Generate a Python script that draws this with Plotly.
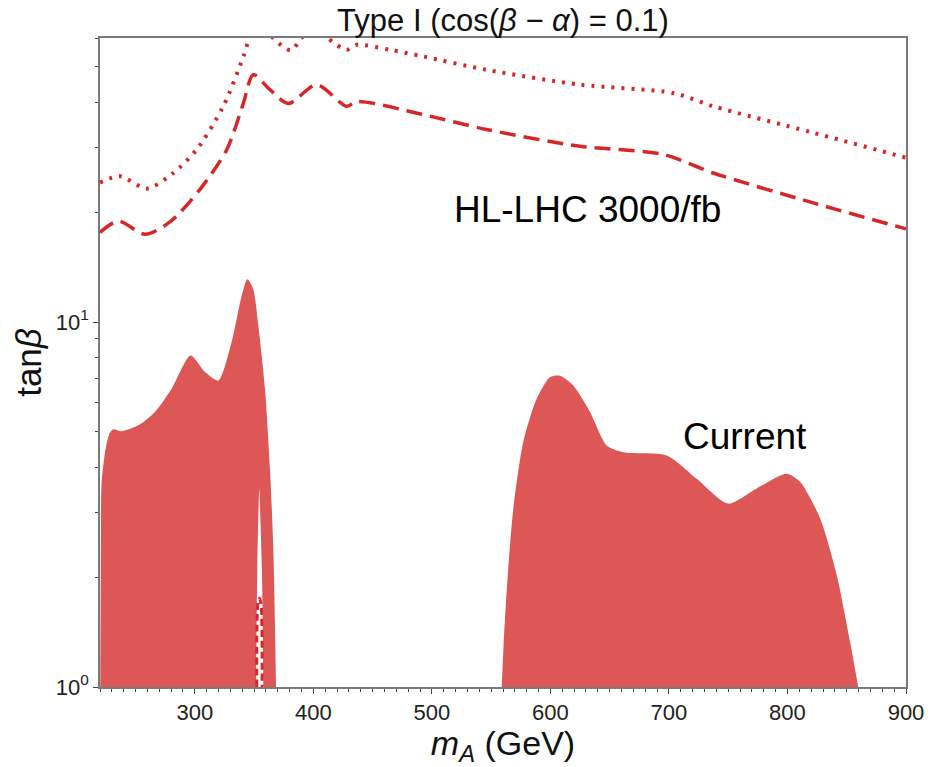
import numpy as np
import plotly.graph_objects as go

# ---- data: m_A (GeV) vs tan(beta) ----
# current exclusion, low-mass island
cur_low_mA = [220.2, 220.8, 221.4, 224.8, 228.0, 231.2, 238.0, 252.3, 266.4, 280.4,
              296.4, 308.6, 319.8, 331.0, 339.5, 344.3, 349.3, 353.6, 359.2, 363.4,
              366.2, 368.5]
cur_low_tb = [1.0, 2.5, 3.65, 4.5, 4.95, 5.08, 5.02, 5.21, 5.67, 6.56,
              8.09, 7.29, 6.91, 8.80, 11.8, 13.1, 12.3, 9.77, 6.56, 3.97,
              2.40, 1.0]

# allowed sliver inside the low-mass island
gap_mA = [351.6, 352.7, 353.8, 354.4, 355.0, 356.6, 357.8]
gap_tb = [1.0, 2.11, 3.1, 3.5, 3.1, 2.11, 1.0]

# HL-LHC reach inside the sliver
hl_gap_mA = [352.3, 352.4, 353.3, 354.5, 355.7, 356.6, 356.7]
hl_gap_tb = [1.0, 1.45, 1.7, 1.75, 1.7, 1.45, 1.0]

# current exclusion, high-mass island
cur_high_mA = [558.9, 560.5, 563.1, 568.7, 577.1, 588.4, 599.6, 608.1, 619.3, 633.4,
               647.5, 661.5, 698.1, 723.4, 750.0, 774.0, 799.3, 810.6, 827.5, 841.5,
               852.8, 859.7]
cur_high_tb = [1.0, 1.3, 1.83, 3.08, 4.69, 6.16, 7.06, 7.13, 6.70, 5.67,
               4.59, 4.40, 4.31, 3.72, 3.18, 3.50, 3.84, 3.65, 2.90, 2.03,
               1.33, 1.0]

# HL-LHC 3000/fb projections
hl_dash_mA = [220, 235.5, 258, 279, 304.4, 327, 341, 349.3, 363.4, 378.9,
              402.8, 428, 436.5, 492.7, 546, 625, 695, 737.4, 821.8, 900]
hl_dash_tb = [17.6, 18.9, 17.4, 18.8, 23.1, 29.7, 39.8, 47.6, 43.3, 39.7,
              44.7, 39.0, 40.2, 37.0, 33.7, 30.3, 28.8, 25.6, 21.2, 18.0]

hl_dot_mA = [220, 236.9, 259.4, 281.8, 301.6, 324, 341, 347, 356, 366,
             381, 390, 401, 412, 428, 436.5, 464.7, 492.7, 546, 625,
             703.7, 737.4, 821.8, 900]
hl_dot_tb = [24.1, 25.1, 23.2, 25.6, 29.7, 39.0, 53.4, 61, 67, 60,
             55.5, 60, 65, 60, 55.7, 57.5, 55.7, 53.4, 49.1, 44.7,
             42.4, 39.0, 33.0, 28.2]

x_ticks = [300, 400, 500, 600, 700, 800, 900]
y_ticks = [1, 10]
y_ticktext = ["10<sup>0</sup>", "10<sup>1</sup>"]
y_minor = [2, 3, 4, 5, 6, 7, 8, 9, 20, 30, 40, 50, 60]

FILL = "#dc5756"
LINE = "#d62728"
FONT = "Liberation Sans, Arial, Helvetica, sans-serif"

fig = go.Figure()

for xs, ys in [(cur_low_mA, cur_low_tb), (cur_high_mA, cur_high_tb)]:
    fig.add_trace(go.Scatter(
        x=xs, y=ys, mode="lines", fill="toself", fillcolor=FILL,
        line=dict(width=0, color=FILL, shape="spline", smoothing=0.7),
        hoverinfo="skip", showlegend=False))

fig.add_trace(go.Scatter(
    x=gap_mA, y=gap_tb, mode="lines", fill="toself", fillcolor="white",
    line=dict(width=0, color="white", shape="spline", smoothing=0.8),
    hoverinfo="skip", showlegend=False))

fig.add_trace(go.Scatter(
    x=hl_gap_mA, y=hl_gap_tb, mode="lines",
    line=dict(width=3, color=LINE, dash="7px,4px", shape="spline"),
    hoverinfo="skip", showlegend=False))

fig.add_trace(go.Scatter(
    x=hl_dash_mA, y=hl_dash_tb, mode="lines",
    line=dict(width=3.5, color=LINE, dash="16px,8px", shape="spline", smoothing=0.8),
    hoverinfo="skip", showlegend=False))

fig.add_trace(go.Scatter(
    x=hl_dot_mA, y=hl_dot_tb, mode="lines",
    line=dict(width=4, color=LINE, dash="3px,7px", shape="spline", smoothing=0.8),
    hoverinfo="skip", showlegend=False))

# text labels (log axis: y given as log10 of tan(beta))
fig.add_annotation(x=631, y=np.log10(20.3), xref="x", yref="y",
                   text="HL-LHC 3000/fb", showarrow=False,
                   font=dict(family=FONT, size=37, color="black"))
fig.add_annotation(x=764, y=np.log10(4.85), xref="x", yref="y",
                   text="Current", showarrow=False,
                   font=dict(family=FONT, size=37, color="black"))

axis_common = dict(showline=True, linecolor="#7a7a7a", linewidth=1.5, mirror=True,
                   showgrid=False, zeroline=False, ticks="outside",
                   tickcolor="#444", ticklen=5, tickwidth=1.2,
                   tickfont=dict(family=FONT, size=22, color="#222"))

fig.update_layout(
    width=936, height=767, autosize=False,
    margin=dict(l=100, r=30, t=38, b=78),
    paper_bgcolor="white", plot_bgcolor="white",
    title=dict(text="Type I (cos(<i>β</i> − <i>α</i>) = 0.1)",
               x=(100 + 906) / 2 / 936, xanchor="center",
               y=1 - 20 / 767, yanchor="middle", yref="container",
               font=dict(family=FONT, size=31, color="#111")),
    xaxis=dict(range=[220, 900], tickvals=x_ticks,
               title=dict(text="<i>m</i><sub><i>A</i></sub> (GeV)",
                          font=dict(family=FONT, size=34, color="#111"), standoff=6),
               minor=dict(dtick=10, tick0=0, ticks="outside", ticklen=3,
                          tickcolor="#444", tickwidth=1),
               **axis_common),
    yaxis=dict(type="log", range=[0, np.log10(60)], tickvals=y_ticks,
               ticktext=y_ticktext,
               title=dict(text="tan<i>β</i>",
                          font=dict(family=FONT, size=35, color="#111"), standoff=4),
               minor=dict(tickvals=y_minor, ticks="outside", ticklen=3,
                          tickcolor="#444", tickwidth=1),
               **axis_common),
)

fig.write_html("out.html")
